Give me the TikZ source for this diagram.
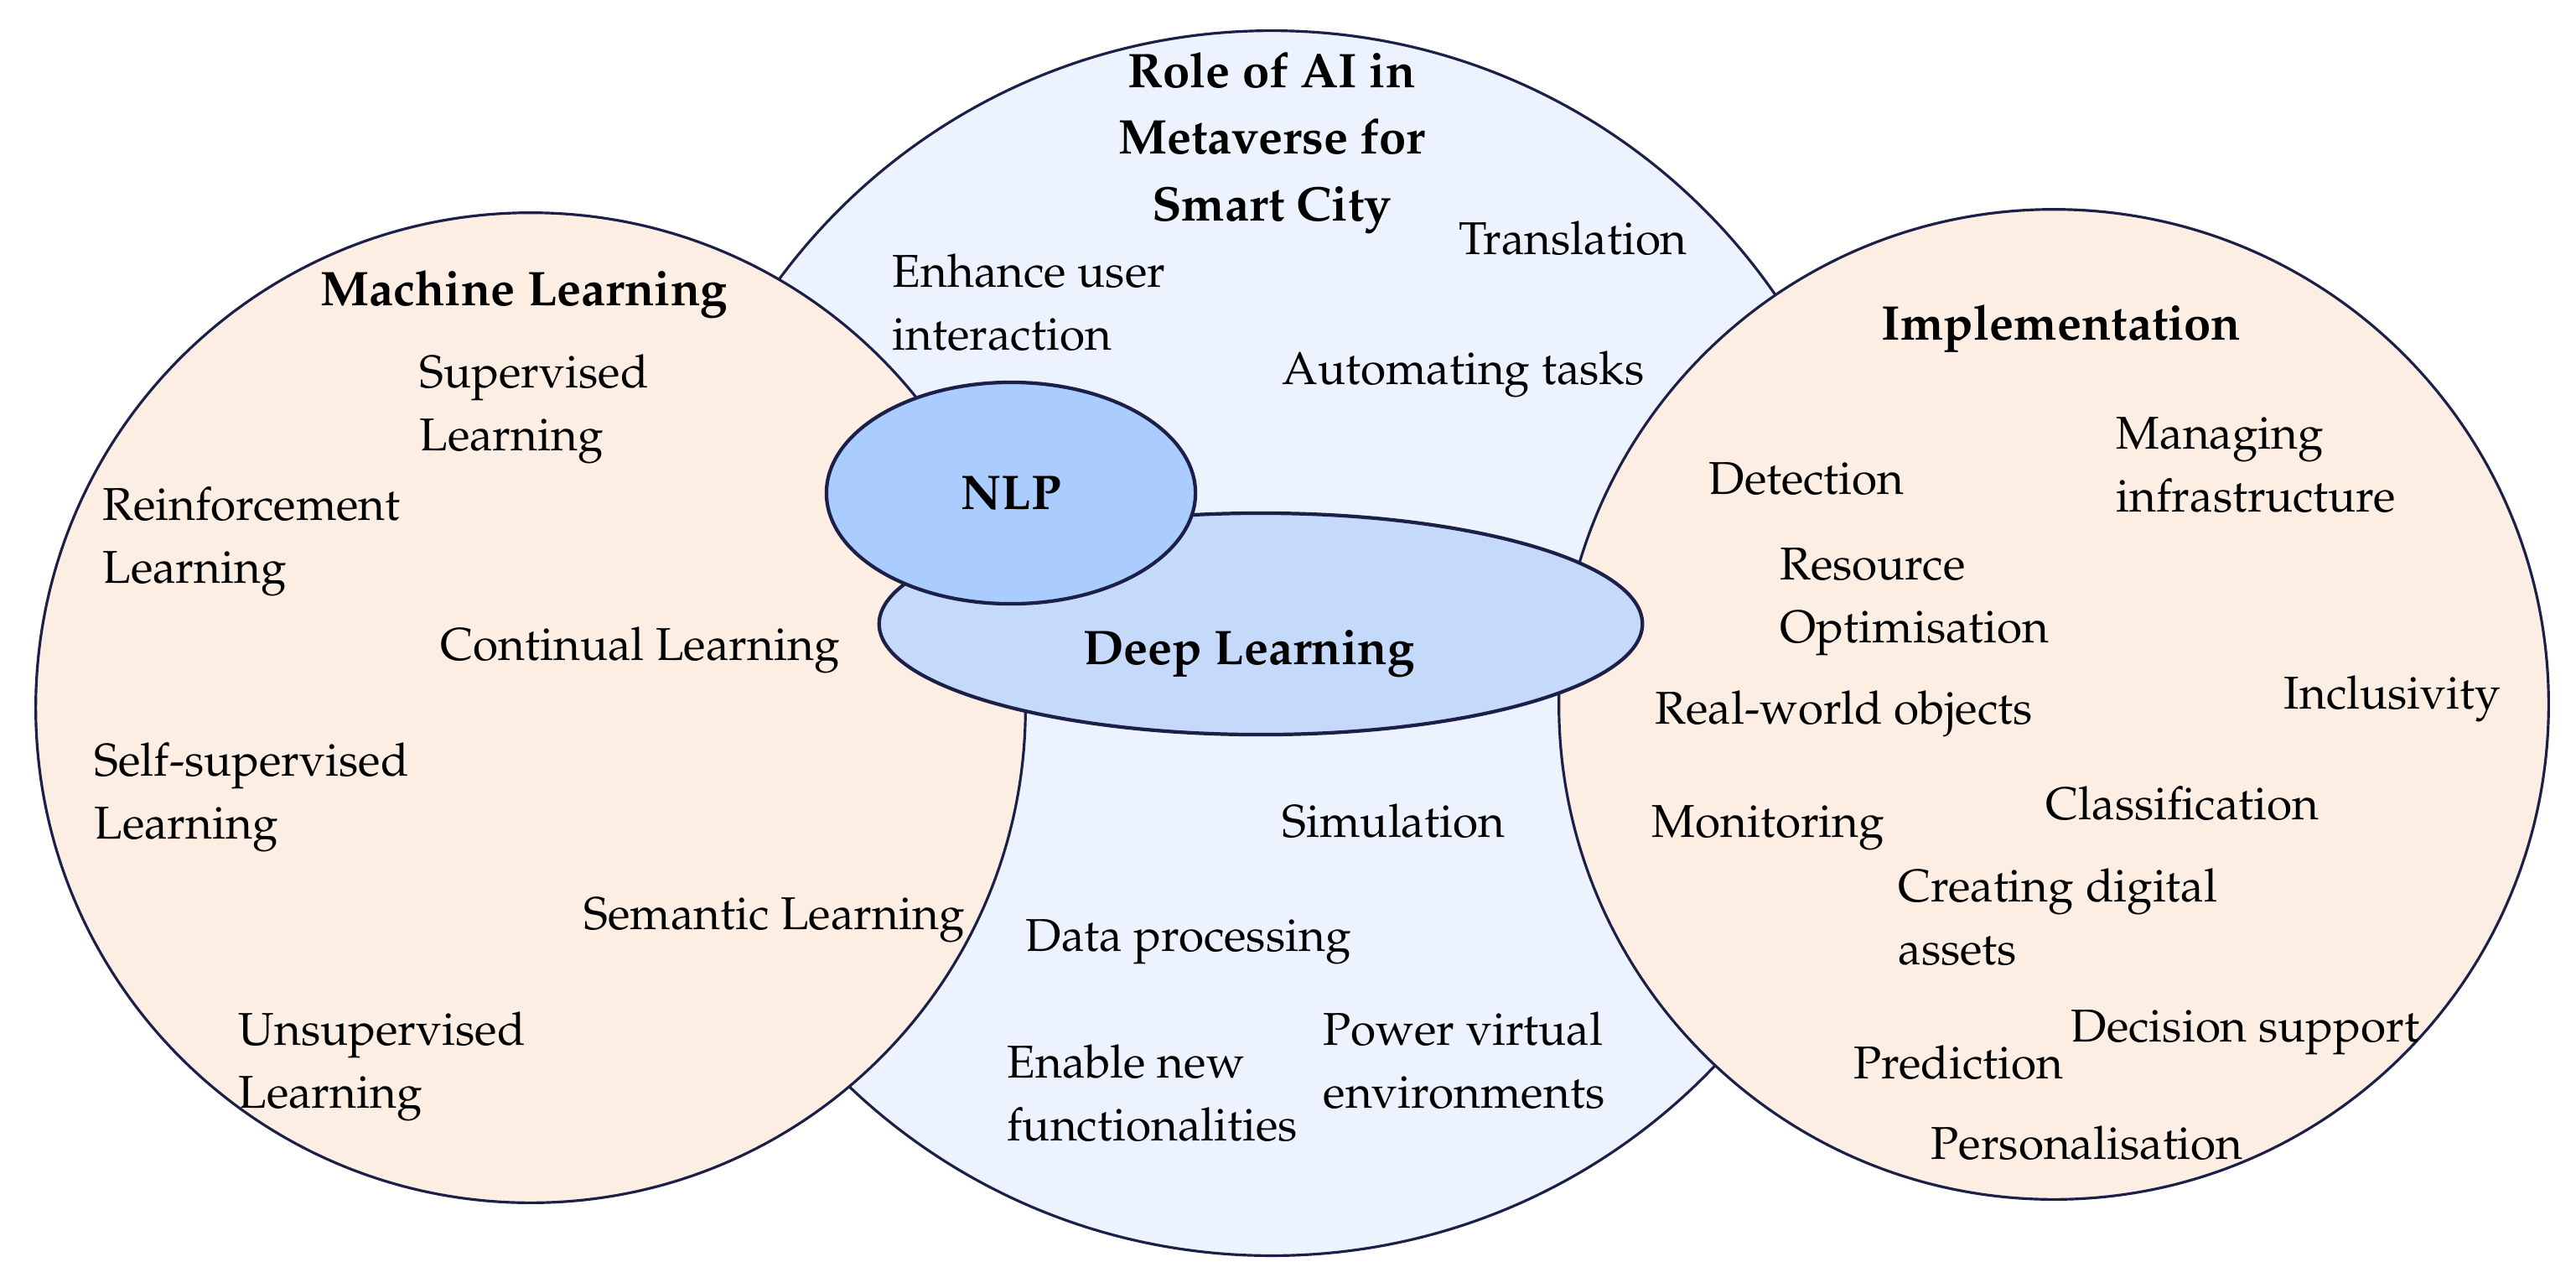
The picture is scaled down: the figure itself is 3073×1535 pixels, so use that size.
\documentclass[tikz,border=0pt]{standalone}
\usepackage[T1]{fontenc}
\renewcommand{\rmdefault}{ppl}
\usetikzlibrary{shapes.geometric}
\definecolor{peach}{RGB}{253,238,228}
\definecolor{midblue}{RGB}{236,243,254}
\definecolor{nlpblue}{RGB}{170,204,254}
\definecolor{dlblue}{RGB}{197,218,251}
\definecolor{edgecol}{RGB}{28,32,72}
\tikzset{
  bigset/.style={circle, draw=edgecol, line width=0.9pt, inner sep=0pt},
  innerset/.style={ellipse, draw=edgecol, line width=1.2pt, inner sep=0pt},
  lbl/.style={anchor=base west, inner sep=0pt, align=left, font=\fontsize{15.6}{21.3}\selectfont},
  ttl/.style={inner sep=0pt, font=\fontsize{16.5}{22.6}\selectfont\bfseries},
}
\begin{document}
\begin{tikzpicture}[x=0.01cm, y=-0.01cm]
\useasboundingbox (0,0) rectangle (3073,1535);
\fill[white] (0,0) rectangle (3073,1535);
% sets
\node[bigset, fill=midblue, minimum size=14.6cm] (role) at (1517,767) {};
\node[bigset, fill=peach, minimum size=11.8cm] (ml) at (633,844) {};
\node[bigset, fill=peach, minimum size=11.8cm] (impl) at (2450,840) {};
\node[innerset, fill=dlblue, minimum width=9.1cm, minimum height=2.64cm] (dl) at (1504,744) {};
\node[innerset, fill=nlpblue, minimum width=4.4cm, minimum height=2.64cm, font=\fontsize{16.5}{20}\selectfont\bfseries] (nlp) at (1206,588) {NLP};
% titles (base anchor = baseline of the last line)
\node[ttl, anchor=base, align=center] (roletitle) at (1517,263) {Role of AI in\\Metaverse for\\Smart City};
\node[ttl, anchor=base west] (mltitle) at (382,364) {Machine Learning};
\node[ttl, anchor=base west] (impltitle) at (2244,405) {Implementation};
\node[ttl, anchor=base] (dltitle) at (1490,792) {Deep Learning};
% middle set items
\node[lbl] (translation) at (1740,303) {Translation};
\node[lbl] (enhance) at (1064,417) {Enhance user\\interaction};
\node[lbl] (automating) at (1529,458) {Automating tasks};
\node[lbl] (simulation) at (1529,998) {Simulation};
\node[lbl] (dataproc) at (1223,1134) {Data processing};
\node[lbl] (enable) at (1201,1360) {Enable new\\functionalities};
\node[lbl] (power) at (1578,1321) {Power virtual\\environments};
% machine learning items
\node[lbl] (supervised) at (500,537) {Supervised\\Learning};
\node[lbl] (reinforcement) at (122,695) {Reinforcement\\Learning};
\node[lbl] (continual) at (525,787) {Continual Learning};
\node[lbl] (selfsup) at (112,1000) {Self-supervised\\Learning};
\node[lbl] (semantic) at (696,1108) {Semantic Learning};
\node[lbl] (unsupervised) at (284,1321) {Unsupervised\\Learning};
% implementation items
\node[lbl] (detection) at (2038,589) {Detection};
\node[lbl] (managing) at (2524,610) {Managing\\infrastructure};
\node[lbl] (resource) at (2123,766) {Resource\\Optimisation};
\node[lbl] (inclusivity) at (2724,845) {Inclusivity};
\node[lbl] (realworld) at (1974,863) {Real-world objects};
\node[lbl] (monitoring) at (1970,998) {Monitoring};
\node[lbl] (classification) at (2440,977) {Classification};
\node[lbl] (creating) at (2264,1150) {Creating digital\\assets};
\node[lbl] (decision) at (2470,1242) {Decision support};
\node[lbl] (prediction) at (2211,1286) {Prediction};
\node[lbl] (personal) at (2303,1382) {Personalisation};
\end{tikzpicture}
\end{document}
